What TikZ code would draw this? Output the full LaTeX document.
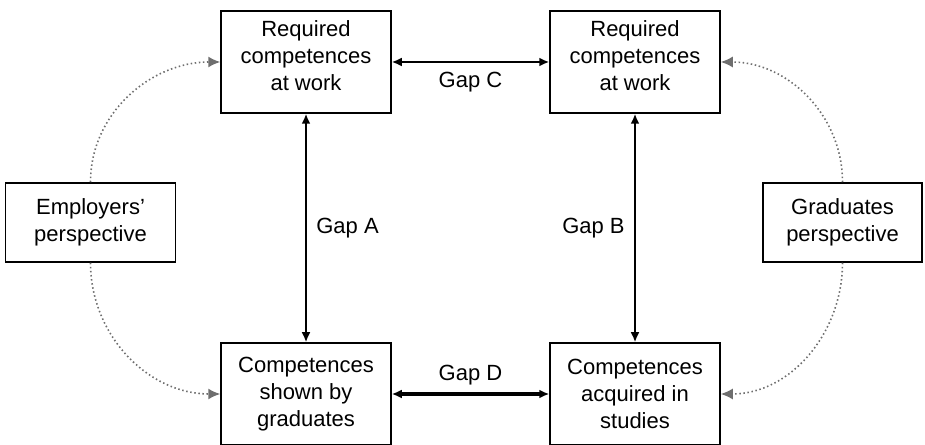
\documentclass[tikz,border=0pt]{standalone}
\usepackage{fontspec}
\setmainfont{Liberation Sans}
\usetikzlibrary{arrows.meta}
\definecolor{viewgray}{RGB}{110,110,110}
\begin{document}
\begin{tikzpicture}[x=1pt, y=1pt,
    box/.style={draw, line width=1.5pt, align=center, minimum width=170pt, minimum height=102pt, inner sep=0pt, font=\fontsize{22}{27}\selectfont},
    side/.style={box, minimum height=79pt},
    gap/.style={{Latex[length=10pt,width=9pt]}-{Latex[length=10pt,width=9pt]}, line width=2pt},
    view/.style={viewgray, line width=1.6pt, dash pattern=on 1.5pt off 2.6pt, -{Latex[length=12pt,width=11pt]}},
    lbl/.style={font=\fontsize{22}{26}\selectfont}]
    \useasboundingbox (0,0) rectangle (925,444);

    % four competence boxes
    \node[box, text depth=12pt] (workL) at (306,382) {Required\\competences\\at work};
    \node[box, text depth=12pt] (workR) at (635,382) {Required\\competences\\at work};
    \node[box] (shown) at (306,50) {Competences\\shown by\\graduates};
    \node[box] (acquired) at (635,50) {Competences\\acquired in\\studies};

    % the two perspectives
    \node[side] (employers) at (90.5,221.5) {Employers'\\perspective};
    \node[side, minimum width=159pt] (graduates) at (842.5,221.5) {Graduates\\perspective};

    % gaps
    \draw[gap] (workL) -- (shown) node[midway, right=6pt, lbl] (gapA) {Gap A};
    \draw[gap] (workR) -- (acquired) node[midway, left=6pt, lbl] (gapB) {Gap B};
    \draw[gap] (workL) -- (workR) node[midway, below=6pt, lbl] (gapC) {Gap C};
    \draw[gap, line width=3.8pt] (shown) -- (acquired) node[midway, above=4pt, lbl] (gapD) {Gap D};

    % dotted perspective arcs
    \draw[view] (employers.north) to[out=90, in=180] (workL.west);
    \draw[view] (employers.south) to[out=-90, in=180] (shown.west);
    \draw[view] (graduates.north) to[out=90, in=0] (workR.east);
    \draw[view] (graduates.south) to[out=-90, in=0] (acquired.east);
\end{tikzpicture}
\end{document}
